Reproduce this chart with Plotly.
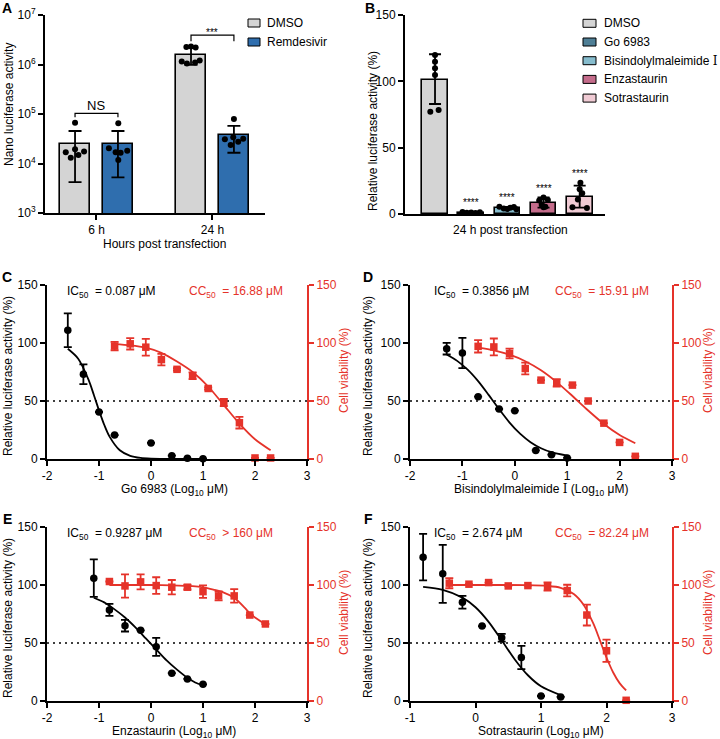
import plotly.graph_objects as go
import math

W, H = 720, 739
FONT = "Liberation Sans, Arial, Helvetica, sans-serif"
RED = "#e5332a"
GRAY = "#d4d4d4"
BLUE = "#2f6eae"

def px(x):
    return x / W

def py(y):
    return 1 - y / H

# ---------------- Panel A data ----------------
a_groups = ["6 h", "24 h"]
a_series = ["DMSO", "Remdesivir"]
a_dmso_mean = [24800, 1556000]
a_dmso_hi = [45400, 2220000]
a_dmso_lo = [4200, 980000]
a_remd_mean = [24800, 37700]
a_remd_hi = [45400, 57300]
a_remd_lo = [5250, 16500]
a_dmso_pts = [[66700, 16800, 13100, 19400, 14800, 17400],
              [2250000, 2300000, 2200000, 1150000, 1050000, 1100000, 1200000]]
a_remd_pts = [[64900, 20300, 16800, 16500, 18200, 11700],
              [79400, 30800, 33800, 27500, 31600, 23700]]
a_dmso_jit = [[0.0, -0.08, -0.037, 0.0, 0.029, 0.078],
              [-0.04, 0.0, 0.04, -0.08, -0.035, 0.035, 0.075]]
a_remd_jit = [[0.003, -0.078, -0.02, 0.023, 0.08, 0.003],
              [0.0, -0.078, -0.006, 0.037, 0.08, -0.028]]
a_sig = ["NS", "***"]
a_yticks = [1e3, 1e4, 1e5, 1e6, 1e7]
a_yticktext = ["10<sup>3</sup>", "10<sup>4</sup>", "10<sup>5</sup>", "10<sup>6</sup>", "10<sup>7</sup>"]

# ---------------- Panel B data ----------------
b_names = ["DMSO", "Go 6983", "Bisindolylmaleimide Ⅰ", "Enzastaurin", "Sotrastaurin"]
b_colors = [GRAY, "#4f7f96", "#86bccd", "#c46c8b", "#f0cbd4"]
b_mean = [100.8, 1.1, 4.5, 8.5, 12.6]
b_hi = [120.4, 1.6, 5.2, 12.6, 21.4]
b_lo = [82.9, 0.6, 3.8, 4.8, 4.8]
b_pts = [[119.8, 114.8, 109.8, 104.8, 77.1, 78.4],
         [1.5, 1.0, 1.2, 0.8, 1.3],
         [5.5, 4.2, 3.8, 4.8, 5.2, 3.5],
         [12.5, 10.2, 10.5, 7.0, 5.5, 5.0],
         [23.6, 18.6, 15.6, 11.0, 5.0, 4.5]]
b_jit = [[0, 0, 0, 0, -0.13, 0.1],
         [-0.24, -0.12, 0.0, 0.12, 0.24],
         [-0.22, -0.1, 0.0, 0.08, 0.18, 0.25],
         [0.0, -0.12, 0.12, -0.05, 0.05, 0.0],
         [0.02, 0.0, 0.07, -0.05, -0.2, 0.2]]
b_sig = ["", "****", "****", "****", "****"]

# ---------------- Panels C-F data ----------------
c_x_luc = [-1.6, -1.3, -1.0, -0.7, 0.0, 0.4, 0.7, 1.0]
c_luc = [111, 73, 40.5, 20.6, 13.9, 2.9, 0.6, 0.3]
c_luc_err = [14.5, 8.5, 0, 0, 0, 0, 0, 0]
c_x_via = [-0.7, -0.4, -0.1, 0.2, 0.5, 0.8, 1.1, 1.4, 1.7, 2.0, 2.3]
c_via = [97.3, 99.3, 96.4, 85.7, 77.3, 71.8, 60.8, 48.7, 31.3, 0.9, 0.9]
c_via_err = [3.7, 4.9, 7.2, 5.0, 1.0, 2.9, 1.0, 3.2, 5.0, 0, 0]
c_fit_luc_x = [-1.6, -1.4, -1.2, -1.1, -1.0, -0.9, -0.8, -0.6, -0.4, -0.2, 0.0, 0.5, 1.0]
c_fit_luc = [95, 86.5, 68.2, 55.4, 41.9, 29.5, 19.5, 7.5, 2.7, 0.9, 0.3, 0, 0]
c_fit_via_x = [-0.7, -0.4, -0.1, 0.2, 0.5, 0.8, 1.1, 1.4, 1.7, 2.0, 2.3]
c_fit_via = [99, 98, 96, 91.5, 84, 75, 62.5, 46.5, 30.5, 17, 7.5]

d_x_luc = [-1.3, -1.0, -0.7, -0.3, 0.0, 0.4, 0.7, 1.0]
d_luc = [95.1, 91.4, 53.7, 43.1, 41.7, 7.4, 3.7, 0.9]
d_luc_err = [5, 13, 0, 0, 0, 0, 0, 0]
d_x_via = [-0.7, -0.4, -0.1, 0.2, 0.5, 0.8, 1.1, 1.4, 1.7, 2.0, 2.3]
d_via = [97.1, 96.6, 90.9, 78, 68, 65.7, 63.7, 50, 30.9, 14.3, 2.3]
d_via_err = [5.3, 7.3, 4.2, 5.0, 0, 3.2, 0, 0, 0, 0, 0]
d_fit_luc_x = [-1.3, -1.1, -0.9, -0.7, -0.5, -0.3, -0.1, 0.1, 0.3, 0.5, 0.7, 1.0]
d_fit_luc = [90.1, 84.6, 77.0, 67.1, 55.3, 43.0, 31.4, 21.8, 14.5, 9.3, 5.9, 2.9]
d_fit_via_x = [-0.7, -0.4, -0.1, 0.2, 0.5, 0.8, 1.1, 1.4, 1.7, 2.0, 2.3]
d_fit_via = [96.1, 93.7, 89.9, 84.3, 76.5, 66.3, 54.3, 41.8, 30.2, 20.7, 13.6]

e_x_luc = [-1.1, -0.8, -0.5, -0.2, 0.1, 0.4, 0.7, 1.0]
e_luc = [105.9, 78.5, 64.9, 60.9, 46.7, 24, 19, 14.4]
e_luc_err = [16.2, 5.2, 5.0, 0, 7.8, 0, 0, 0]
e_x_via = [-0.8, -0.5, -0.2, 0.1, 0.4, 0.7, 1.0, 1.3, 1.6, 1.9, 2.2]
e_via = [103, 99.2, 102.7, 99.5, 98.1, 98.1, 94.3, 90.6, 90.6, 74.1, 66.4]
e_via_err = [0, 10, 6.5, 7.2, 6.2, 2.0, 5.4, 3.9, 5.8, 0, 0]
e_fit_luc_x = [-1.1, -0.9, -0.7, -0.5, -0.3, -0.1, 0.1, 0.3, 0.5, 0.7, 0.85, 1.0]
e_fit_luc = [89, 85, 79, 72, 63.5, 54, 44.5, 35, 27, 20, 16, 13.5]
e_fit_via_x = [-0.8, -0.4, 0.0, 0.4, 0.8, 1.0, 1.2, 1.4, 1.6, 1.8, 1.9, 2.0, 2.2]
e_fit_via = [100, 100, 100, 99.7, 99, 98, 96, 93.5, 89, 80.5, 75.5, 72, 66]

f_x_luc = [-0.8, -0.5, -0.2, 0.1, 0.4, 0.7, 1.0, 1.3]
f_luc = [124, 109.6, 85.1, 64.6, 54.5, 37.5, 4.3, 3.5]
f_luc_err = [20, 25, 5.5, 0, 3.3, 10, 0, 0]
f_x_via = [-0.4, -0.1, 0.2, 0.5, 0.8, 1.1, 1.4, 1.7, 2.0, 2.3]
f_via = [101.6, 100.7, 102.1, 99.2, 99.5, 98.7, 95.2, 74.1, 43.3, 0.6]
f_via_err = [4.4, 0, 0, 0, 0, 3.5, 5.0, 9.0, 9.6, 0]
f_fit_luc_x = [-0.8, -0.5, -0.2, 0.0, 0.2, 0.4, 0.6, 0.8, 1.0, 1.3]
f_fit_luc = [98.4, 95.8, 89.1, 80.8, 68.2, 52.3, 35.8, 22.2, 12.7, 5.0]
f_fit_via_x = [-0.4, 0.0, 0.4, 0.8, 1.1, 1.3, 1.5, 1.65, 1.8, 1.9, 2.0, 2.1, 2.2, 2.3]
f_fit_via = [100, 100, 100, 99.9, 99.2, 97.6, 92.3, 83, 66.6, 52.2, 37.5, 24.8, 15.4, 9.1]

ic50_text = ["0.087 μM", "0.3856 μM", "0.9287 μM", "2.674 μM"]
cc50_text = ["= 16.88 μM", "= 15.91 μM", "> 160 μM", "= 82.24 μM"]
drug_names = ["Go 6983", "Bisindolylmaleimide Ⅰ", "Enzastaurin", "Sotrastaurin"]
pct_ticks = [0, 50, 100, 150]

SERIF_I = '<span style="font-family:\'DejaVu Serif\', \'Liberation Serif\', serif">Ⅰ</span>'

def rich(s):
    return s.replace("Ⅰ", SERIF_I)

fig = go.Figure()
annotations = []
shapes = []

def ann(text, x, y, size=12, color="black", xanchor="center", yanchor="middle", angle=0, **kw):
    d = dict(text=text, x=px(x), y=py(y), xref="paper", yref="paper", showarrow=False,
             font=dict(family=FONT, size=size, color=color), xanchor=xanchor, yanchor=yanchor,
             textangle=angle)
    d.update(kw)
    annotations.append(d)

def axis_common():
    return dict(showline=True, linecolor="black", linewidth=2, ticks="outside", ticklen=5,
                tickwidth=2, tickcolor="black", showgrid=False, zeroline=False, automargin=False,
                tickfont=dict(family=FONT, size=12, color="black"), fixedrange=True)

layout_axes = {}

# ---------------- Panel A ----------------
A_TOP, A_BOT = 15, 213
def a_logy(v_log):
    return A_BOT - (v_log - 3) / 4 * (A_BOT - A_TOP)

A_OFF, A_W = 0.185, 0.259
A_XR = [-0.444, 1.453]
A_X0, A_X1 = 45, 265
def a_px(xv):
    return A_X0 + (xv - A_XR[0]) / (A_XR[1] - A_XR[0]) * (A_X1 - A_X0)

xa_d = [i - A_OFF for i in range(len(a_groups))]
xa_r = [i + A_OFF for i in range(len(a_groups))]
for xs, mean, hi, lo, col, name in [(xa_d, a_dmso_mean, a_dmso_hi, a_dmso_lo, GRAY, a_series[0]),
                                    (xa_r, a_remd_mean, a_remd_hi, a_remd_lo, BLUE, a_series[1])]:
    fig.add_trace(go.Bar(x=xs, y=mean, width=A_W, name=name, xaxis="x", yaxis="y",
                         marker=dict(color=col, line=dict(color="black", width=1.6)),
                         error_y=dict(type="data", symmetric=False,
                                      array=[h - m for h, m in zip(hi, mean)],
                                      arrayminus=[m - l for m, l in zip(mean, lo)],
                                      color="black", thickness=1.8, width=6.5)))
for xs, pts, jit in [(xa_d, a_dmso_pts, a_dmso_jit), (xa_r, a_remd_pts, a_remd_jit)]:
    for gx, gp, gj in zip(xs, pts, jit):
        fig.add_trace(go.Scatter(x=[gx + j for j in gj], y=gp, mode="markers", xaxis="x", yaxis="y",
                                 marker=dict(color="black", size=6), cliponaxis=False))

layout_axes["xaxis"] = dict(axis_common(), domain=[px(A_X0), px(A_X1)], range=A_XR,
                            tickvals=list(range(len(a_groups))), ticktext=a_groups, anchor="y")
layout_axes["yaxis"] = dict(axis_common(), domain=[py(A_BOT), py(A_TOP)], type="log", range=[3, 7],
                            tickvals=a_yticks, ticktext=a_yticktext, anchor="x")

for gi, lab in enumerate(a_sig):
    top = max(max(a_dmso_pts[gi]), max(a_remd_pts[gi]), a_dmso_hi[gi], a_remd_hi[gi])
    yb = a_logy(math.log10(top) + (0.19 if lab == "NS" else 0.23))
    x0, x1 = a_px(xa_d[gi]), a_px(xa_r[gi])
    tick = 4 if lab == "NS" else 6
    shapes.append(dict(type="path", xref="paper", yref="paper",
                       path=f"M{px(x0)},{py(yb + tick)} L{px(x0)},{py(yb)} L{px(x1)},{py(yb)} L{px(x1)},{py(yb + tick)}",
                       line=dict(color="black", width=1.2)))
    if lab == "NS":
        ann(lab, (x0 + x1) / 2, yb - 8, size=13)
    else:
        ann(lab, (x0 + x1) / 2, yb - 3, size=10)

for i, (name, col) in enumerate(zip(a_series, [GRAY, BLUE])):
    yc = 23 + i * 19
    shapes.append(dict(type="rect", xref="paper", yref="paper", x0=px(248), x1=px(260),
                       y0=py(yc + 4), y1=py(yc - 4), fillcolor=col, line=dict(color="black", width=1)))
    ann(name, 265, yc, size=12, xanchor="left")

ann("Hours post transfection", 164, 244, size=12)
ann("Nano luciferase activity", 9, 105, size=12, angle=-90)
ann("<b>A</b>", 7, 8, size=14)

# ---------------- Panel B ----------------
B_W = 0.71
xb = list(range(len(b_names)))
for i, (name, col) in enumerate(zip(b_names, b_colors)):
    fig.add_trace(go.Bar(x=[xb[i]], y=[b_mean[i]], width=B_W, name=name, xaxis="x2", yaxis="y2",
                         marker=dict(color=col, line=dict(color="black", width=1.6)),
                         error_y=dict(type="data", symmetric=False, array=[b_hi[i] - b_mean[i]],
                                      arrayminus=[b_mean[i] - b_lo[i]], color="black",
                                      thickness=1.8, width=6)))
for i in xb:
    fig.add_trace(go.Scatter(x=[xb[i] + j for j in b_jit[i]], y=b_pts[i], mode="markers",
                             xaxis="x2", yaxis="y2", marker=dict(color="black", size=6), cliponaxis=False))
    if b_sig[i]:
        annotations.append(dict(text=b_sig[i], x=xb[i], y=max(max(b_pts[i]), b_hi[i]) + 7,
                                xref="x2", yref="y2", showarrow=False, xanchor="center", yanchor="middle",
                                font=dict(family=FONT, size=10, color="black")))

layout_axes["xaxis2"] = dict(axis_common(), domain=[px(405), px(605)], range=[-0.83, 4.70],
                             ticks="", showticklabels=False, anchor="y2")
layout_axes["yaxis2"] = dict(axis_common(), domain=[py(214), py(15)], range=[0, 150],
                             tickvals=pct_ticks, anchor="x2")
for i, (name, col) in enumerate(zip(b_names, b_colors)):
    yc = 23.3 + i * 18.7
    shapes.append(dict(type="rect", xref="paper", yref="paper", x0=px(583), x1=px(596),
                       y0=py(yc + 4), y1=py(yc - 4), fillcolor=col, line=dict(color="black", width=1)))
    ann(rich(name), 602, yc, size=12, xanchor="left")
ann("24 h post transfection", 510, 230, size=12)
ann("Relative luciferase activity (%)", 373, 131, size=12, angle=-90)
ann("<b>B</b>", 370, 8, size=14)

# ---------------- Panels C-F ----------------
panels = [
    dict(lab="C", xa="xaxis3", ya="yaxis3", yr="yaxis4", x0=47, x1=307, y0=285, y1=459, xr=[-2, 3],
         xl=c_x_luc, yl=c_luc, el=c_luc_err, xv=c_x_via, yv=c_via, ev=c_via_err,
         fxl=c_fit_luc_x, fyl=c_fit_luc, fxv=c_fit_via_x, fyv=c_fit_via),
    dict(lab="D", xa="xaxis4", ya="yaxis5", yr="yaxis6", x0=410, x1=672, y0=285, y1=459, xr=[-2, 3],
         xl=d_x_luc, yl=d_luc, el=d_luc_err, xv=d_x_via, yv=d_via, ev=d_via_err,
         fxl=d_fit_luc_x, fyl=d_fit_luc, fxv=d_fit_via_x, fyv=d_fit_via),
    dict(lab="E", xa="xaxis5", ya="yaxis7", yr="yaxis8", x0=47, x1=307, y0=527, y1=701, xr=[-2, 3],
         xl=e_x_luc, yl=e_luc, el=e_luc_err, xv=e_x_via, yv=e_via, ev=e_via_err,
         fxl=e_fit_luc_x, fyl=e_fit_luc, fxv=e_fit_via_x, fyv=e_fit_via),
    dict(lab="F", xa="xaxis6", ya="yaxis9", yr="yaxis10", x0=410, x1=672, y0=527, y1=701, xr=[-1, 3],
         xl=f_x_luc, yl=f_luc, el=f_luc_err, xv=f_x_via, yv=f_via, ev=f_via_err,
         fxl=f_fit_luc_x, fyl=f_fit_luc, fxv=f_fit_via_x, fyv=f_fit_via),
]

for k, p in enumerate(panels):
    xs = "x" + p["xa"][5:]
    ys = "y" + p["ya"][5:]
    yrs = "y" + p["yr"][5:]
    fig.add_trace(go.Scatter(x=p["fxl"], y=p["fyl"], mode="lines",
                             line=dict(color="black", width=1.8, shape="spline", smoothing=0.8),
                             xaxis=xs, yaxis=ys))
    fig.add_trace(go.Scatter(x=p["fxv"], y=p["fyv"], mode="lines",
                             line=dict(color=RED, width=1.8, shape="spline", smoothing=0.8),
                             xaxis=xs, yaxis=yrs))
    fig.add_trace(go.Scatter(x=p["xl"], y=p["yl"], mode="markers", xaxis=xs, yaxis=ys, cliponaxis=False,
                             marker=dict(color="black", size=7.5, symbol="circle"),
                             error_y=dict(type="data", array=p["el"], color="black", thickness=1.8, width=4)))
    fig.add_trace(go.Scatter(x=p["xv"], y=p["yv"], mode="markers", xaxis=xs, yaxis=yrs, cliponaxis=False,
                             marker=dict(color=RED, size=7.5, symbol="square"),
                             error_y=dict(type="data", array=p["ev"], color=RED, thickness=1.8, width=4)))
    tv = list(range(p["xr"][0], p["xr"][1] + 1))
    layout_axes[p["xa"]] = dict(axis_common(), domain=[px(p["x0"]), px(p["x1"])], range=p["xr"],
                                tickvals=tv, ticktext=[str(v) for v in tv], anchor=ys)
    layout_axes[p["ya"]] = dict(axis_common(), domain=[py(p["y1"]), py(p["y0"])], range=[0, 150],
                                tickvals=pct_ticks, anchor=xs)
    rc = axis_common()
    rc.update(linecolor=RED, tickcolor=RED, tickfont=dict(family=FONT, size=12, color=RED))
    layout_axes[p["yr"]] = dict(rc, range=[0, 150], tickvals=pct_ticks, overlaying=ys, side="right", anchor=xs)
    shapes.append(dict(type="line", xref=xs + " domain", yref=ys, x0=0, x1=1, y0=50, y1=50,
                       line=dict(color="black", width=1.6, dash="2px,4px"), layer="below"))
    left = p["x0"] < 300
    ty = p["y0"] + 7
    ann("IC<sub>50</sub>  = " + ic50_text[k], 65 if left else 432, ty, xanchor="left")
    ann("CC<sub>50</sub>  " + cc50_text[k], 187 if left else 553, ty, color=RED, xanchor="left")
    mid = (p["y0"] + p["y1"]) / 2
    ann("Relative luciferase activity (%)", 8 if left else 368, mid + 4, size=12, angle=-90)
    ann("Cell viability (%)", 344 if left else 708, mid - 1, size=12, color=RED, angle=-90)
    ann(rich(drug_names[k]) + " (Log<sub>10</sub> μM)", (p["x0"] + p["x1"]) / 2 + (-3 if left else 0),
        p["y1"] + 30.5, size=12)
    ann("<b>" + p["lab"] + "</b>", 7 if left else 368, p["y0"] - 8, size=14)

fig.update_layout(width=W, height=H, margin=dict(l=0, r=0, t=0, b=0, pad=0, autoexpand=False),
                  autosize=False, paper_bgcolor="white", plot_bgcolor="white", showlegend=False,
                  font=dict(family=FONT, size=12, color="black"),
                  annotations=annotations, shapes=shapes, bargap=0, **layout_axes)
fig.write_html("out.html", config={"displayModeBar": False},
               post_script="document.body.style.margin='0';document.body.style.padding='0';"
                           "document.body.style.overflow='hidden';")
